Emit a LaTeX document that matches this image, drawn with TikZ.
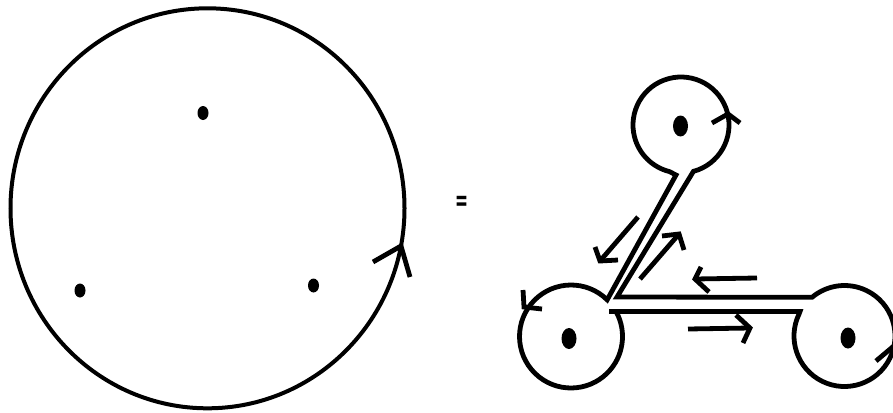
\documentclass[tikz,border=0pt]{standalone}
\usepackage{fontspec}
\newfontfamily\eqfont{DejaVu Sans}
\usetikzlibrary{calc}
\begin{document}
\begin{tikzpicture}[x=1pt,y=1pt,
  bigline/.style={line width=4pt},
  curve/.style={line width=4.8pt, line join=miter, miter limit=10},
  chev/.style={line width=4.8pt, line join=miter, miter limit=10},
  bigdot/.style={fill=black},
  eqsign/.style={inner sep=0pt, font=\eqfont\bfseries\fontsize{15.5}{16}\selectfont, yscale=1.9}]
\useasboundingbox (0,0) rectangle (893,-412);
% left diagram
\coordinate (C) at (207.5,-208.3);
\draw[bigline] (C) ellipse [x radius=197, y radius=200];
\fill[bigdot] (203,-113) ellipse [x radius=5.5, y radius=7];
\fill[bigdot] (80,-290.5) ellipse [x radius=5.5, y radius=7];
\fill[bigdot] (313.5,-285.5) ellipse [x radius=5.5, y radius=7];
\coordinate (a1) at (373,-262);
\coordinate (at) at (401,-246);
\coordinate (a2) at (410,-277);
\draw[chev] (a1) -- (at) -- (a2);
% equals
\node[eqsign] (eq) at (461.5,-203) {=};
% right diagram
\coordinate (T) at (681,-125);
\coordinate (L) at (571,-336.5);
\coordinate (R) at (844.5,-336);
\draw[curve] (609,-311.5) -- (800,-311.5) -- ($(R)+(154:50.5)$)
  arc[start angle=154, end angle=490, radius=50.5]
  -- (617,-297) -- ($(T)+(285:48)$)
  arc[start angle=285, end angle=616, radius=48]
  -- (676,-175) -- ($(L)+(45.4:51.5)$)
  arc[start angle=45.4, end angle=388, radius=51.5];
\fill[bigdot] (680.5,-126) ellipse [x radius=7.5, y radius=10.5];
\fill[bigdot] (569,-338.5) ellipse [x radius=7.5, y radius=10.5];
\fill[bigdot] (848,-338) ellipse [x radius=7.5, y radius=10.5];
% circle arrows
\draw[chev] (712,-123) -- (728,-114) -- (740,-123);
\draw[chev] (523,-290) -- (524,-307) -- (542,-309);
\draw[chev] (876,-361) -- (895,-345) -- (903,-366);
% strip arrows
\coordinate (e0) at (638,-217); \coordinate (et) at (600,-261);
\draw[chev] (e0) -- (et);
\draw[chev] (595,-247) -- (et) -- (618,-260);
\coordinate (f0) at (640,-279); \coordinate (ft) at (679,-234);
\draw[chev] (f0) -- (ft);
\draw[chev] (662,-236) -- (ft) -- (684,-250);
\coordinate (g0) at (757,-278); \coordinate (gt) at (695,-279);
\draw[chev] (g0) -- (gt);
\draw[chev] (701,-267) -- (gt) -- (709,-292);
\coordinate (h0) at (688,-329); \coordinate (ht) at (750,-328);
\draw[chev] (h0) -- (ht);
\draw[chev] (736,-315) -- (ht) -- (743,-343);
\end{tikzpicture}
\end{document}
